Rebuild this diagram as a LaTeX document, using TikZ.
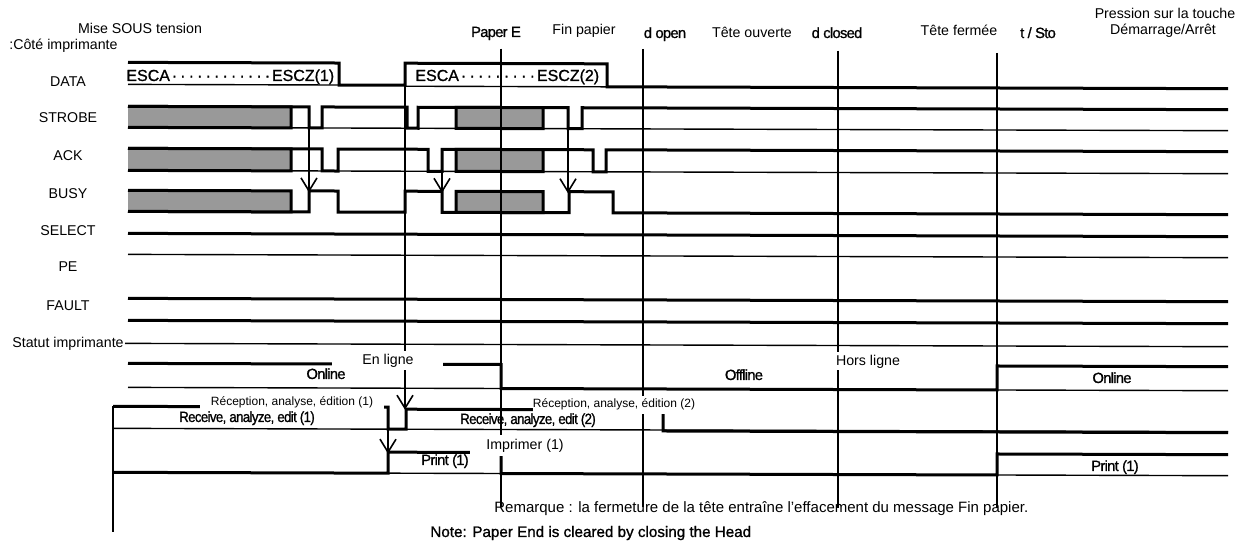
\documentclass[tikz,border=0pt]{standalone}
\usepackage{fontspec}
\setmainfont{Liberation Sans}
\newfontfamily\scanfam[LetterSpace=-5,FakeBold=1]{Liberation Sans}
\newfontfamily\notefam[FakeBold=1]{Liberation Sans}
\newcommand\lblf{\fontsize{7.1}{8}\selectfont}
\newcommand\remf{\fontsize{7.5}{9}\selectfont}
\newcommand\smallf{\fontsize{6}{7}\selectfont}
\newcommand\scanf{\scanfam\fontsize{7.4}{8}\selectfont}
\newcommand\escf{\notefam\fontsize{8}{9}\selectfont}
\newcommand\notef{\notefam\fontsize{7.6}{9}\selectfont}
\newcommand\dotrun[1]{\xleaders\hbox to 4pt{\hss·\hss}\hskip #1\relax}
\begin{document}
\begin{tikzpicture}[x=0.5pt,y=-0.5pt,
  sig/.style={line width=1.5pt},
  baseln/.style={line width=0.7pt},
  vline/.style={line width=0.8pt},
  grayblk/.style={fill=gray!80, draw=black, line width=1.5pt},
  lbl/.style={font=\lblf, inner sep=0pt, anchor=base},
  slbl/.style={font=\smallf, inner sep=0pt, anchor=base},
  scan/.style={font=\scanf, inner sep=0pt, anchor=base},
  wbox/.style={fill=white, draw=none}]
\fill[white] (0,0) rectangle (1250,550);
\useasboundingbox (0,0) rectangle (1250,550);
\newcommand\vtip[2]{\draw[vline] (#1-8,#2-13) -- (#1,#2) -- (#1+8,#2-13);}

\begin{scope}[cm={1,-0.003,0,1,(0,0)}]
% DATA
\draw[baseln] (128,84) -- (339,84);
\draw[baseln] (405,85) -- (607,85);
\draw[sig] (128,62) -- (339,62) -- (339,84) -- (405,84) -- (405,62) -- (607,62) -- (607,85) -- (1228,85);
% STROBE
\draw[baseln] (128,127) -- (1228,127);
\draw[sig] (128,106) -- (309,106) -- (309,127) -- (322,127) -- (322,106) -- (407,106) -- (407,127) -- (418,127) -- (418,106) -- (568,106) -- (568,127) -- (582,127) -- (582,106) -- (1228,106);
\fill[gray!80] (128,106) rectangle (291,127);
\draw[sig] (128,106) -- (291,106) -- (291,127) -- (128,127);
\filldraw[grayblk] (456,106) rectangle (543,127);
% ACK
\draw[baseln] (128,170) -- (1228,170);
\draw[sig] (128,148) -- (322,148) -- (322,170) -- (338,170) -- (338,148) -- (428,148) -- (428,170) -- (442,170) -- (442,148) -- (593,148) -- (593,170) -- (606,170) -- (606,148) -- (1228,148);
\fill[gray!80] (128,148) rectangle (291,170);
\draw[sig] (128,148) -- (291,148) -- (291,170) -- (128,170);
\filldraw[grayblk] (456,148) rectangle (543,170);
% BUSY
\draw[sig] (128,211) -- (309,211) -- (309,190) -- (338,190) -- (338,211) -- (405,211) -- (405,190) -- (442,190) -- (442,211) -- (569,211) -- (569,190) -- (613,190) -- (613,211) -- (1228,211);
\fill[gray!80] (128,190) rectangle (291,211);
\draw[sig] (128,190) -- (291,190) -- (291,211) -- (128,211);
\filldraw[grayblk] (456,190) rectangle (543,211);
% SELECT, PE, FAULT
\draw[sig] (128,233) -- (1228,233);
\draw[baseln] (128,254) -- (1228,254);
\draw[sig] (128,298) -- (1228,298);
\draw[sig] (128,320) -- (1228,320);
% Statut imprimante
\draw[baseln] (125,343) -- (1228,343);
% Online
\draw[baseln] (128,387) -- (1228,387);
\draw[sig] (128,363) -- (501,363) -- (501,387) -- (997,387) -- (997,363) -- (1228,363);
% Receive
\draw[baseln] (113,428) -- (1228,428);
\draw[sig] (113,406) -- (388,406) -- (388,428) -- (406,428) -- (406,408) -- (663,408) -- (663,429) -- (1228,429);
% Print
\draw[baseln] (113,472) -- (1228,472);
\draw[sig] (113,472) -- (388,472) -- (388,451) -- (501,451) -- (501,472) -- (997,472) -- (997,451) -- (1228,451);
% event lines and arrows
\draw[vline] (113,406) -- (113,532);
\draw[vline] (405,84) -- (405,407); \vtip{405}{407}
\draw[vline] (309,127) -- (309,190); \vtip{309}{190}
\draw[vline] (442,170) -- (442,190); \vtip{442}{190}
\draw[vline] (568,127) -- (568,190); \vtip{568}{190}
\draw[vline] (388,428) -- (388,451); \vtip{388}{451}
\draw[vline] (501,47) -- (501,505);
\draw[vline] (643,47) -- (643,505);
\draw[vline] (838,48) -- (838,505);
\draw[vline] (997,50) -- (997,505);
\end{scope}

% white label boxes
\fill[white] (332,351) rectangle (443,370);
\fill[white] (800,352) rectangle (935,370);
\fill[white] (200,396) rectangle (384,413);
\fill[white] (533,396) rectangle (697,414);
\fill[white] (470,435) rectangle (580,456);

% left labels
\node[lbl] (mise) at (140,34) {Mise SOUS tension};
\node[lbl, anchor=base west] (cote) at (9,50) {:Côté imprimante};
\node[lbl] (ldata) at (68,87) {DATA};
\node[lbl] (lstrobe) at (68,123) {STROBE};
\node[lbl] (lack) at (68,161) {ACK};
\node[lbl] (lbusy) at (68,199) {BUSY};
\node[lbl] (lselect) at (68,236) {SELECT};
\node[lbl] (lpe) at (68,272) {PE};
\node[lbl] (lfault) at (68,311) {FAULT};
\node[lbl] (lstat) at (68,348) {Statut imprimante};

% top event labels
\node[scan] (pe) at (496,37) {Paper E};
\node[lbl] (finp) at (584,35) {Fin papier};
\node[scan] (hop) at (665,38) {d open};
\node[lbl] (tov) at (752,38) {Tête ouverte};
\node[scan] (hcl) at (837,38) {d closed};
\node[lbl] (tfe) at (959,36) {Tête fermée};
\node[scan] (sst) at (1038,38) {t / Sto};
\node[lbl] (pres) at (1165,19) {Pression sur la touche};
\node[lbl] (dema) at (1163,35) {Démarrage/Arrêt};

% DATA texts
\node[font=\escf, inner sep=0pt, anchor=base west] (esc1) at (126,81) {ESCA\dotrun{51pt}ESCZ(1)};
\node[font=\escf, inner sep=0pt, anchor=base west] (esc2) at (415,81) {ESCA\dotrun{39pt}ESCZ(2)};

% status texts
\node[lbl] (enl) at (388,365) {En ligne};
\node[lbl] (hol) at (868,366) {Hors ligne};
\node[scan] (on1) at (326,379) {Online};
\node[scan] (off) at (744,380) {Offline};
\node[scan] (on2) at (1112,383) {Online};
\node[slbl] (rec1) at (292,406) {Réception, analyse, édition (1)};
\node[slbl] (rec2) at (614,408) {Réception, analyse, édition (2)};
\node[scan] (rae1) at (247,422) {\scalebox{0.9}[1]{Receive, analyze, edit (1)}};
\node[scan] (rae2) at (528,424) {\scalebox{0.9}[1]{Receive, analyze, edit (2)}};
\node[lbl] (imp) at (525,450) {Imprimer (1)};
\node[scan] (pr1) at (445,465) {Print (1)};
\node[scan] (pr2) at (1115,471) {Print (1)};

% notes
\node[font=\remf, inner sep=0pt, anchor=base west] (rem) at (494,513) {Remarque : la fermeture de la tête entraîne l’effacement du message Fin papier.};
\node[font=\notef, inner sep=0pt, anchor=base west] (note) at (430,537) {Note: Paper End is cleared by closing the Head};
\end{tikzpicture}
\end{document}
